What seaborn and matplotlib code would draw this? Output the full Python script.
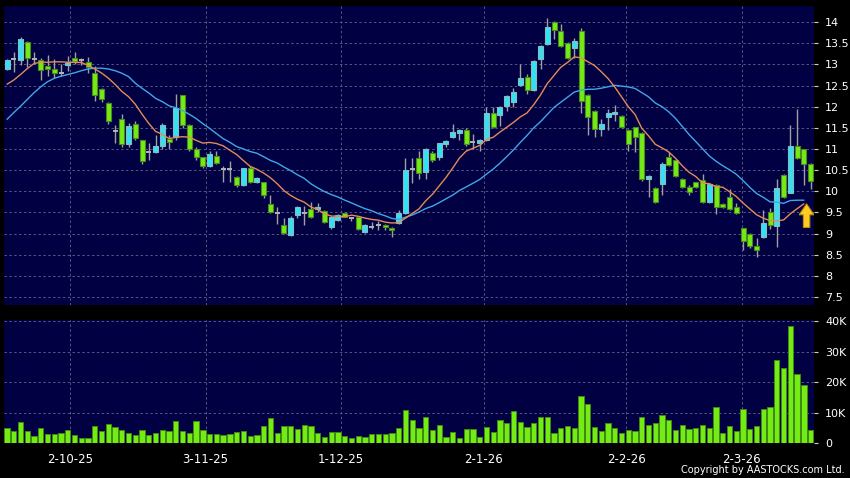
import numpy as np
import pandas as pd
import matplotlib
matplotlib.use("Agg")
import matplotlib.pyplot as plt
from matplotlib.patches import FancyArrow
import seaborn as sns

# ---------------- data ----------------
opens = [12.88, 13.12, 13.10, 13.53, 13.12, 13.10, 12.96, 12.90, 12.80, 12.98,
         13.14, 13.10, 13.06, 12.80, 12.41, 12.09, 11.43, 11.70, 11.12, 11.60,
         11.21, 10.92, 10.92, 11.07, 11.23, 11.29, 12.27, 11.57, 11.01, 10.80,
         10.60, 10.83, 10.52, 10.52, 10.34, 10.15, 10.54, 10.21, 10.21, 9.69,
         9.48, 9.20, 8.96, 9.44, 9.48, 9.59, 9.57, 9.54, 9.15, 9.32,
         9.49, 9.36, 9.40, 9.03, 9.16, 9.20, 9.20, 9.13, 9.24, 9.48,
         10.52, 10.78, 10.46, 10.90, 10.80, 11.11, 11.29, 11.37, 11.45, 11.16,
         11.13, 11.21, 11.86, 11.80, 12.01, 12.12, 12.51, 12.71, 12.39, 13.12,
         13.48, 14.01, 13.79, 13.50, 13.38, 13.79, 12.27, 11.90, 11.46, 11.76,
         11.82, 11.79, 11.45, 11.51, 11.38, 10.28, 10.07, 10.16, 10.82, 10.74,
         10.29, 10.09, 10.21, 10.26, 9.74, 10.15, 9.70, 9.86, 9.62, 9.12,
         9.00, 8.70, 8.91, 9.52, 9.17, 10.38, 9.97, 11.08, 10.99, 10.64]

closes = [13.10, 13.12, 13.61, 13.14, 13.12, 12.87, 12.90, 12.79, 12.80, 13.04,
          13.08, 13.10, 12.93, 12.27, 12.17, 11.66, 11.43, 11.12, 11.55, 11.25,
          10.71, 10.92, 11.07, 11.57, 11.16, 11.97, 11.57, 11.01, 10.80, 10.60,
          10.88, 10.66, 10.52, 10.52, 10.15, 10.54, 10.21, 10.31, 9.91, 9.50,
          9.48, 9.02, 9.36, 9.62, 9.48, 9.38, 9.62, 9.28, 9.40, 9.44,
          9.40, 9.36, 9.10, 9.20, 9.16, 9.20, 9.15, 9.08, 9.48, 10.50,
          10.52, 10.44, 11.01, 10.75, 11.13, 11.19, 11.39, 11.45, 11.11, 11.16,
          11.21, 11.86, 11.51, 12.00, 12.25, 12.35, 12.67, 12.39, 13.08, 13.44,
          13.89, 13.81, 13.44, 13.14, 13.56, 12.13, 11.76, 11.48, 11.60, 11.84,
          11.87, 11.51, 11.11, 11.29, 10.28, 10.36, 9.75, 10.64, 10.62, 10.36,
          10.09, 9.99, 10.09, 9.74, 10.17, 9.62, 9.62, 9.58, 9.48, 8.83,
          8.70, 8.61, 9.26, 9.20, 10.08, 9.86, 11.07, 10.78, 10.64, 10.25]

highs = [13.13, 13.30, 13.65, 13.56, 13.30, 13.15, 13.21, 13.12, 13.00, 13.20,
         13.30, 13.16, 13.18, 12.97, 12.45, 12.10, 11.56, 11.82, 11.62, 11.66,
         11.21, 11.13, 11.33, 11.62, 11.33, 12.30, 12.28, 11.60, 11.05, 10.82,
         10.95, 10.95, 10.60, 10.72, 10.36, 10.56, 10.60, 10.33, 10.23, 9.91,
         9.62, 9.36, 9.42, 9.65, 9.66, 9.75, 9.72, 9.56, 9.42, 9.46,
         9.51, 9.40, 9.42, 9.22, 9.28, 9.30, 9.22, 9.15, 9.55, 10.78,
         10.78, 10.95, 11.03, 10.95, 11.15, 11.22, 11.60, 11.48, 11.50, 11.35,
         11.23, 12.00, 12.00, 12.02, 12.27, 12.45, 13.00, 12.78, 13.10, 13.46,
         14.09, 14.03, 13.95, 13.52, 13.62, 13.85, 12.30, 11.92, 11.70, 11.95,
         12.05, 11.81, 11.48, 11.53, 11.40, 10.38, 10.09, 10.70, 10.92, 10.76,
         10.31, 10.15, 10.23, 10.40, 10.19, 10.17, 9.72, 10.05, 9.72, 9.14,
         9.02, 8.90, 9.55, 9.60, 10.30, 10.40, 11.57, 11.94, 11.01, 10.66]

lows = [12.86, 12.83, 12.98, 12.93, 13.02, 12.63, 12.72, 12.67, 12.72, 12.85,
        13.00, 12.98, 12.80, 12.14, 12.12, 11.59, 11.13, 11.04, 11.04, 11.20,
        10.64, 10.75, 10.90, 11.00, 11.00, 11.20, 11.50, 10.95, 10.75, 10.55,
        10.58, 10.64, 10.22, 10.22, 10.10, 10.13, 10.19, 10.19, 9.85, 9.48,
        9.23, 9.00, 8.95, 9.36, 9.19, 9.36, 9.50, 9.25, 9.10, 9.30,
        9.38, 9.30, 9.08, 9.01, 9.10, 9.08, 9.08, 8.92, 9.22, 9.46,
        10.19, 10.30, 10.30, 10.70, 10.75, 11.05, 11.25, 11.20, 11.08, 11.00,
        10.95, 11.19, 11.49, 11.55, 11.90, 12.00, 12.48, 12.30, 12.37, 12.90,
        13.46, 13.60, 13.42, 13.12, 13.15, 11.84, 11.33, 11.28, 11.30, 11.45,
        11.65, 11.49, 10.95, 10.92, 10.25, 9.87, 9.73, 9.90, 10.60, 10.34,
        10.07, 9.90, 10.07, 9.72, 9.72, 9.45, 9.60, 9.56, 9.46, 8.60,
        8.65, 8.45, 8.89, 9.10, 8.69, 9.84, 9.95, 10.76, 10.15, 10.05]

volume_k = [4.9, 3.8, 7.0, 4.1, 2.4, 4.9, 2.9, 2.9, 3.3, 4.3,
            2.6, 1.5, 1.8, 5.5, 3.9, 6.2, 5.3, 4.2, 3.2, 2.7,
            4.3, 2.5, 3.4, 4.3, 3.8, 7.2, 3.9, 3.4, 7.3, 4.2,
            3.0, 3.0, 2.5, 3.0, 3.7, 4.1, 2.4, 2.5, 5.5, 8.2,
            3.3, 5.5, 5.5, 4.6, 6.0, 5.5, 3.4, 2.1, 3.7, 3.6,
            2.3, 1.7, 2.3, 2.0, 3.0, 3.0, 3.0, 3.3, 5.0, 10.8,
            7.6, 5.0, 8.5, 4.3, 6.0, 2.1, 3.6, 1.6, 4.5, 4.6,
            2.1, 5.2, 3.6, 7.4, 6.5, 10.6, 6.8, 5.1, 6.6, 8.4,
            8.6, 3.4, 5.0, 5.7, 4.9, 15.3, 12.7, 5.2, 4.1, 6.5,
            4.8, 3.3, 4.2, 4.0, 8.4, 5.9, 6.6, 9.2, 7.4, 4.2,
            5.9, 4.6, 4.8, 5.8, 4.8, 11.8, 3.4, 5.7, 3.8, 11.1,
            4.6, 5.5, 11.1, 11.7, 27.3, 24.6, 38.3, 22.5, 19.2, 4.2]

ma10_head = [12.53, 12.63, 12.76, 12.90, 13.02, 13.05, 13.05, 13.06, 13.06]
ma20_head = [11.70, 11.86, 12.01, 12.17, 12.33, 12.47, 12.59, 12.67, 12.72,
             12.76, 12.80, 12.85, 12.89, 12.91, 12.91, 12.89, 12.85, 12.79, 12.71]

date_labels = ["2-10-25", "3-11-25", "1-12-25", "2-1-26", "2-2-26", "2-3-26"]
date_pos = [9.3, 29.4, 49.4, 70.6, 91.7, 108.8]
price_ticks = [7.5, 8, 8.5, 9, 9.5, 10, 10.5, 11, 11.5, 12, 12.5, 13, 13.5, 14]
vol_ticks = [0, 10, 20, 30, 40]
vol_tick_labels = ["0", "10K", "20K", "30K", "40K"]

# ---------------- style ----------------
sns.set_style("dark")
plt.rcParams["font.family"] = ["DejaVu Sans"]

NAVY = "#000042"
GRID = "#565680"
UP_FACE, UP_EDGE = "#33e2f2", "#8ab8c4"
DN_FACE, DN_EDGE = "#74ec14", "#4a8a1e"
WICK = "#a0a0a0"

n = len(closes)
idx = np.arange(n)
o = np.array(opens)
c = np.array(closes)
h = np.array(highs)
l = np.array(lows)

cs = pd.Series(closes)
ma10 = cs.rolling(10).mean()
ma10.iloc[:len(ma10_head)] = ma10_head
ma20 = cs.rolling(20).mean()
ma20.iloc[:len(ma20_head)] = ma20_head
# the averages on the reference stop one session before the last candle
ma_end = n - 1

fig = plt.figure(figsize=(8.5, 4.78), dpi=100, facecolor="black")
W, H = 850.0, 478.0
axp = fig.add_axes([4 / W, 1 - 305 / H, 810 / W, 299 / H])
axv = fig.add_axes([4 / W, 1 - 443 / H, 810 / W, 123 / H])

for ax in (axp, axv):
    ax.set_facecolor(NAVY)
    for s in ax.spines.values():
        s.set_visible(False)
    ax.set_axisbelow(True)

# ---------------- price panel ----------------
up = c > o + 0.005
dn = c < o - 0.005
flat = ~(up | dn)
bw = 0.74

axp.vlines(idx, l, h, color=WICK, lw=1.0, zorder=2)
axp.bar(idx[up], (c - o)[up], bottom=o[up], width=bw, color=UP_FACE,
        edgecolor=UP_EDGE, linewidth=0.8, zorder=3)
axp.bar(idx[dn], (o - c)[dn], bottom=c[dn], width=bw, color=DN_FACE,
        edgecolor=DN_EDGE, linewidth=0.8, zorder=3)
axp.hlines(c[flat], idx[flat] - bw / 2, idx[flat] + bw / 2, color="#b4b4b4",
           lw=1.4, zorder=3)

sns.lineplot(x=idx[:ma_end], y=ma20.values[:ma_end], ax=axp, color="#3fa8e8",
             lw=1.0, zorder=4)
sns.lineplot(x=idx[:ma_end], y=ma10.values[:ma_end], ax=axp, color="#e58a58",
             lw=1.0, zorder=4)

# yellow arrow marker under the last MA10 value
arrow_x = idx[ma_end - 1] + 0.4
top = float(ma10.iloc[ma_end - 1])
axp.add_patch(FancyArrow(arrow_x, top - 0.56, 0, 0.56, width=0.95, head_width=2.2,
                         head_length=0.26, length_includes_head=True,
                         fc="#ffcc22", ec="#c08a10", lw=0.8, zorder=6))

axp.set_xlim(-0.45, 119.5)
axp.set_ylim(7.31, 14.38)
axp.set_yticks(price_ticks)
axp.set_yticklabels([f"{t:g}" for t in price_ticks])
axp.yaxis.tick_right()
axp.set_xticks(date_pos)
axp.set_xticklabels([])
axp.tick_params(axis="x", length=0)
axp.tick_params(axis="y", colors="#cfcfcf", labelcolor="white", length=3,
                width=0.8, pad=5, labelsize=8)
axp.grid(True, color=GRID, linestyle=(0, (2.5, 2.5)), lw=0.7)
axp.set_xlabel("")
axp.set_ylabel("")

# ---------------- volume panel ----------------
vdf = pd.DataFrame({"i": idx, "v": volume_k})
sns.barplot(data=vdf, x="i", y="v", ax=axv, color=DN_FACE, saturation=1,
            edgecolor="#3f8a14", linewidth=0.7, width=0.78, native_scale=True,
            zorder=3)
axv.set_xlim(-0.45, 119.5)
axv.set_ylim(0, 40.4)
axv.set_yticks(vol_ticks)
axv.set_yticklabels(vol_tick_labels)
axv.yaxis.tick_right()
axv.set_xticks(date_pos)
axv.set_xticklabels(date_labels)
axv.tick_params(axis="x", colors="#cfcfcf", labelcolor="white", length=3,
                width=0.8, pad=4, labelsize=8.5)
axv.tick_params(axis="y", colors="#cfcfcf", labelcolor="white", length=3,
                width=0.8, pad=5, labelsize=8)
axv.grid(True, color=GRID, linestyle=(0, (2.5, 2.5)), lw=0.7)
axv.set_xlabel("")
axv.set_ylabel("")

fig.text(845 / W, 1 - 470 / H, "Copyright by AASTOCKS.com Ltd.", ha="right",
         va="center", color="white", fontsize=7)

fig.savefig("out.png", dpi=100, facecolor="black")
